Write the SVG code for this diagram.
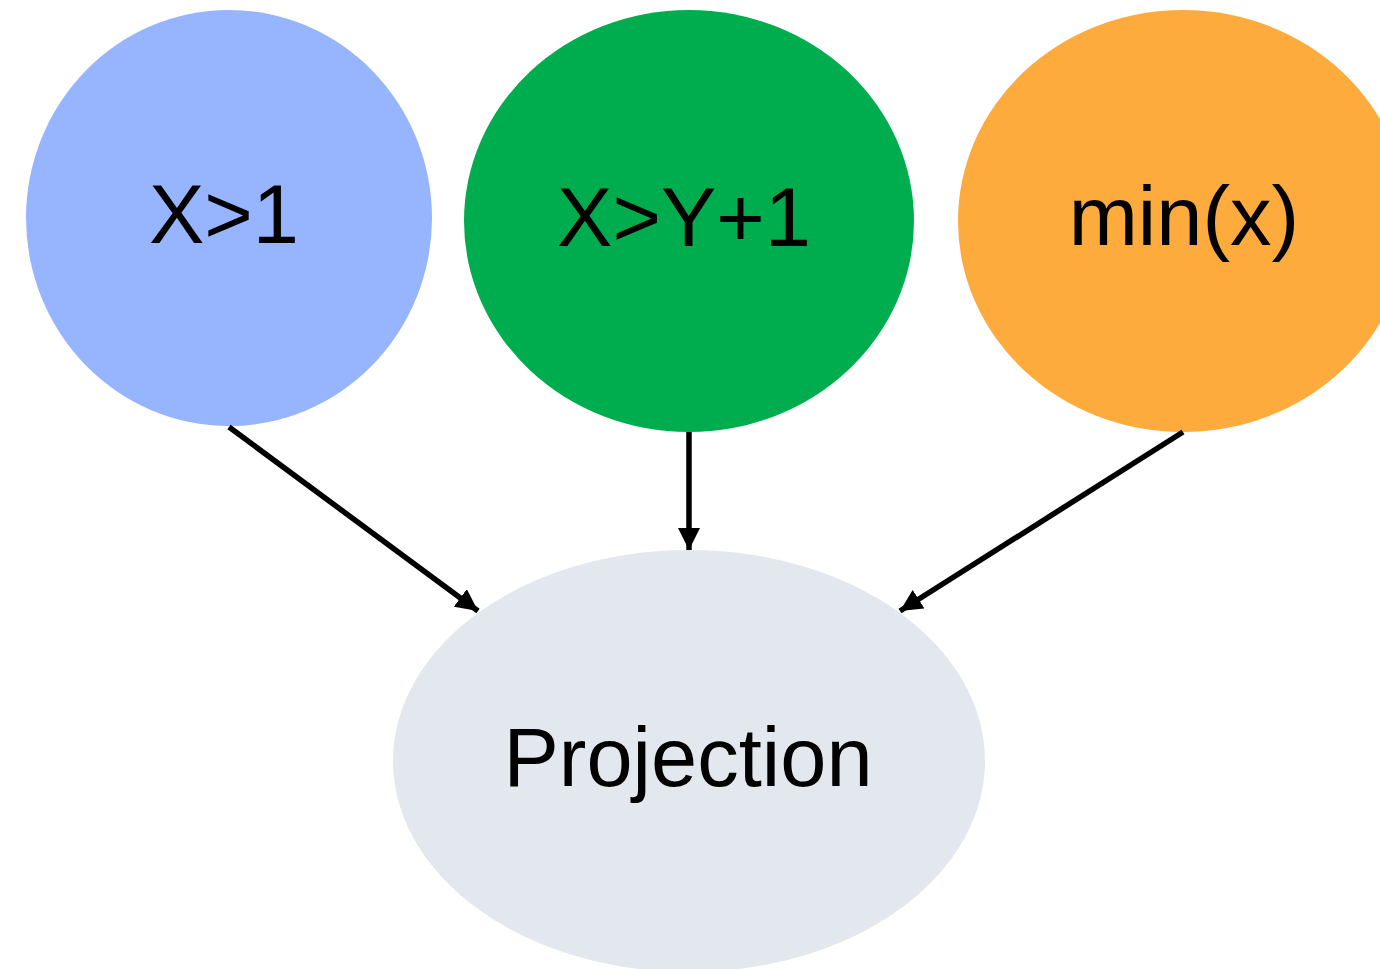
<svg xmlns="http://www.w3.org/2000/svg" width="1380" height="969" viewBox="0 0 1380 969">
  <style>
    .label { font-family: "Liberation Sans", Arial, sans-serif; font-size: 83px; fill: #000; text-anchor: middle; }
    .edge { stroke: #000; stroke-width: 5.5; fill: none; marker-end: url(#arrow); }
  </style>
  <defs>
    <!-- solid triangular arrowhead, tip on the target ellipse edge -->
    <marker id="arrow" viewBox="0 0 22 22" refX="22" refY="11" markerWidth="22" markerHeight="22" orient="auto" markerUnits="userSpaceOnUse">
      <path d="M0,0 L22,11 L0,22 z" fill="#000"/>
    </marker>
  </defs>
  <rect width="1380" height="969" fill="#ffffff"/>

  <g id="node-x-gt-1">
    <ellipse cx="229" cy="218" rx="203" ry="208" fill="#97B4FE"/>
    <text class="label" x="224" y="243">X&gt;1</text>
  </g>
  <g id="node-x-gt-y-plus-1">
    <ellipse cx="689" cy="221" rx="225" ry="211" fill="#00AD4E"/>
    <text class="label" x="684" y="246">X&gt;Y+1</text>
  </g>
  <g id="node-min-x">
    <ellipse cx="1183" cy="221" rx="225" ry="211" fill="#FEAB3D"/>
    <text class="label" x="1184" y="245">min(x)</text>
  </g>
  <g id="node-projection">
    <ellipse cx="689" cy="761" rx="296" ry="211" fill="#E2E8EE"/>
    <text class="label" x="688" y="786">Projection</text>
  </g>

  <g id="connectors">
    <line class="edge" x1="229" y1="427" x2="478" y2="611"/>
    <line class="edge" x1="689" y1="432" x2="689" y2="550"/>
    <line class="edge" x1="1183" y1="432" x2="900" y2="611"/>
  </g>
</svg>
